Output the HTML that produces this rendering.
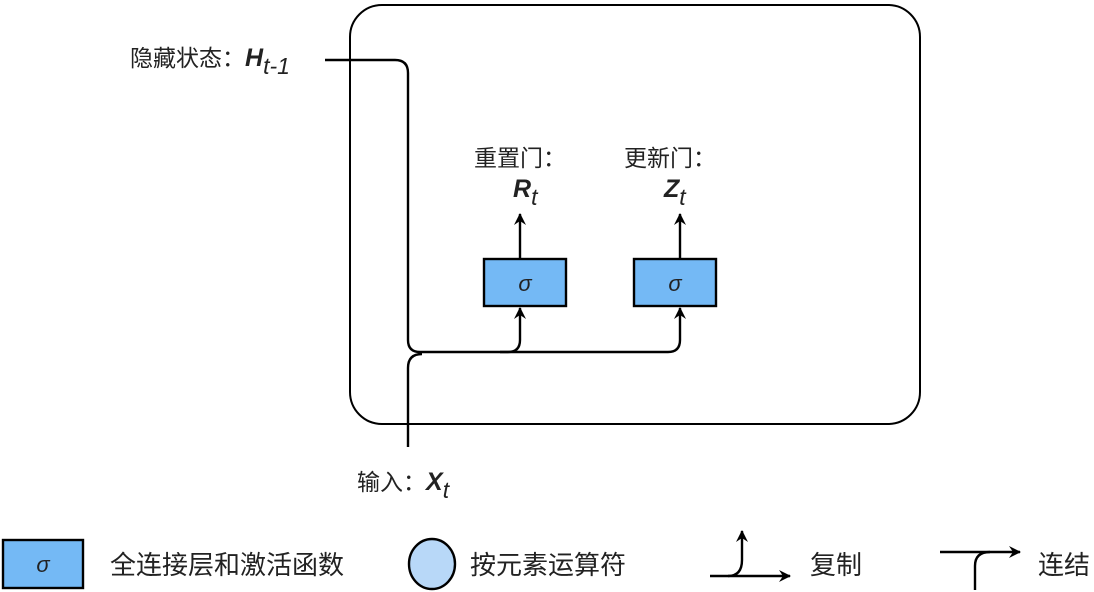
<!DOCTYPE html>
<html><head><meta charset="utf-8"><style>
body{margin:0;background:#fff;}
svg{display:block;}
text{font-family:"Liberation Sans","Noto Sans CJK SC",sans-serif;fill:#222;}
</style></head><body>
<svg width="1094" height="592" viewBox="0 0 1094 592" xmlns="http://www.w3.org/2000/svg">
<defs>
<marker id="a" markerWidth="14" markerHeight="14" refX="11" refY="6" orient="auto" markerUnits="userSpaceOnUse">
<path d="M0,0 L12,6 L0,12 L4,6 Z" fill="#000"/>
</marker>
</defs>
<rect x="350" y="5" width="570" height="419" rx="32" fill="none" stroke="#000" stroke-width="2"/>
<g fill="none" stroke="#000" stroke-width="2.4">
<path d="M325,60 H395 Q408,60 408,73 V340 Q408,352 420,352 H508 Q520,352 520,340 V308" marker-end="url(#a)"/>
<path d="M500,352 H668 Q680,352 680,340 V308" marker-end="url(#a)"/>
<path d="M408,447 V368 Q408,354 422,354"/>
<path d="M520,259 V214" marker-end="url(#a)"/>
<path d="M680,259 V214" marker-end="url(#a)"/>
</g>
<rect x="484" y="259" width="82" height="47" fill="#74b9f5" stroke="#000" stroke-width="2.4"/>
<rect x="634" y="259" width="82" height="47" fill="#74b9f5" stroke="#000" stroke-width="2.4"/>
<text x="525" y="291" font-size="22" font-style="italic" text-anchor="middle">σ</text>
<text x="675" y="291" font-size="22" font-style="italic" text-anchor="middle">σ</text>
<text x="474" y="166" font-size="23">重置门：</text>
<text x="624" y="166" font-size="23">更新门：</text>
<text x="513" y="197" font-size="25" font-weight="bold" font-style="italic">R<tspan font-size="23" font-weight="normal" dy="8">t</tspan></text>
<text x="664" y="197" font-size="25" font-weight="bold" font-style="italic">Z<tspan font-size="23" font-weight="normal" dy="8">t</tspan></text>
<text x="130" y="66" font-size="23">隐藏状态：<tspan font-weight="bold" font-style="italic" font-size="25">H</tspan><tspan font-style="italic" dy="8">t-1</tspan></text>
<text x="357" y="490" font-size="23">输入：<tspan font-weight="bold" font-style="italic" font-size="25">X</tspan><tspan font-style="italic" dy="8">t</tspan></text>
<rect x="3" y="540" width="80" height="48" fill="#74b9f5" stroke="#000" stroke-width="2.4"/>
<text x="43" y="572" font-size="22" font-style="italic" text-anchor="middle">σ</text>
<text x="110" y="574" font-size="26">全连接层和激活函数</text>
<ellipse cx="432" cy="564" rx="23" ry="25" fill="#b8d8f8" stroke="#000" stroke-width="2.4"/>
<text x="470" y="574" font-size="26">按元素运算符</text>
<g fill="none" stroke="#000" stroke-width="2.4">
<path d="M710,576 H790" marker-end="url(#a)"/>
<path d="M728,576 Q742,576 742,560 V531" marker-end="url(#a)"/>
<path d="M940,552 H1020" marker-end="url(#a)"/>
<path d="M975,590 V566 Q975,552 990,552"/>
</g>
<text x="810" y="574" font-size="26">复制</text>
<text x="1038" y="574" font-size="26">连结</text>
</svg>
</body></html>
